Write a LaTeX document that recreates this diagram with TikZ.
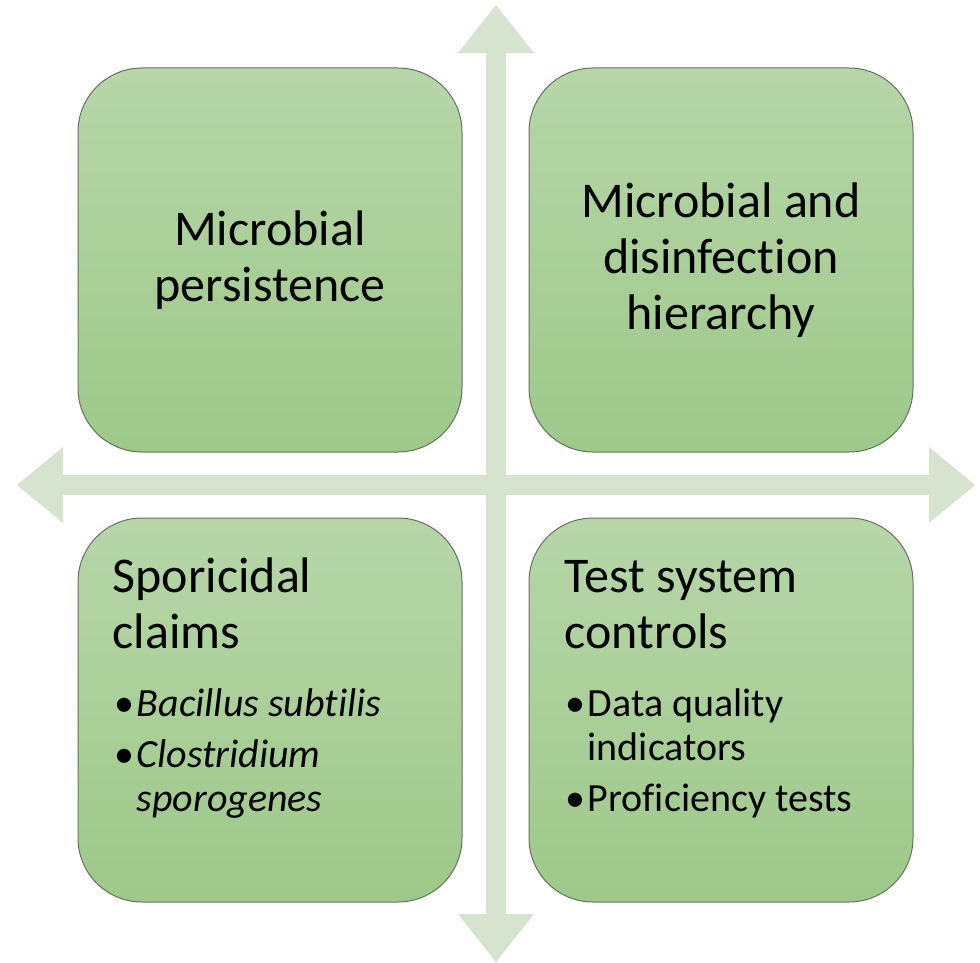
\documentclass[tikz,border=0pt]{standalone}
\usepackage{fontspec}
\setmainfont{Carlito}[Ligatures=NoCommon]
\usepackage{tikz}

\definecolor{boxtop}{RGB}{182,214,167}
\definecolor{boxbot}{RGB}{158,201,138}
\definecolor{crossfill}{RGB}{214,227,207}
\definecolor{boxline}{RGB}{105,110,100}

\newcommand{\titlefont}{\fontsize{50}{56}\selectfont}
\newcommand{\itemfont}{\fontsize{40}{44}\selectfont}
\newcommand{\bul}{\makebox[22pt][l]{\textbullet}}

\tikzset{
  panel/.style={draw=boxline, line width=1pt, rounded corners=64pt,
    minimum width=384pt, minimum height=384pt, inner sep=0pt,
    top color=boxtop, bottom color=boxbot, align=center, font=\titlefont},
  label/.style={anchor=base west, inner sep=0pt}
}

\begin{document}
\begin{tikzpicture}[x=1pt,y=-1pt]
 \useasboundingbox (0,0) rectangle (980,963);

 % the cross of arrows behind the panels
 \fill[crossfill] (17,485) -- (63,447) -- (63,475) -- (929,475) -- (929,447) -- (975,485)
   -- (929,523) -- (929,495) -- (63,495) -- (63,523) -- cycle;
 \fill[crossfill] (496,5) -- (534,53) -- (506,53) -- (506,914) -- (534,914) -- (496,962)
   -- (458,914) -- (486,914) -- (486,53) -- (458,53) -- cycle;

 % four panels
 \node[panel] (persist) at (270,260) {Microbial\\persistence};
 \node[panel] (hier) at (721,260) {Microbial and\\disinfection\\hierarchy};
 \node[panel] (spor) at (270,710) {};
 \node[panel] (ctrl) at (721,710) {};

 % bottom panels: heading and bullet list
 \node[label, font=\titlefont] (sportitle) at ([shift={(35,75)}]spor.north west)
   {\parbox[t]{330pt}{\raggedright Sporicidal\\claims}};
 \node[label, font=\itemfont] (sporlist) at ([shift={(37,199)}]spor.north west)
   {\begin{tabular}[t]{@{}l@{}l@{}}
     \bul & \textit{Bacillus subtilis}\\[7pt]
     \bul & \textit{Clostridium}\\
          & \textit{sporogenes}
    \end{tabular}};

 \node[label, font=\titlefont] (ctrltitle) at ([shift={(36,75)}]ctrl.north west)
   {\parbox[t]{330pt}{\raggedright Test system\\controls}};
 \node[label, font=\itemfont] (ctrllist) at ([shift={(37,199)}]ctrl.north west)
   {\begin{tabular}[t]{@{}l@{}l@{}}
     \bul & Data quality\\
          & indicators\\[7pt]
     \bul & Proficiency tests
    \end{tabular}};
\end{tikzpicture}
\end{document}
